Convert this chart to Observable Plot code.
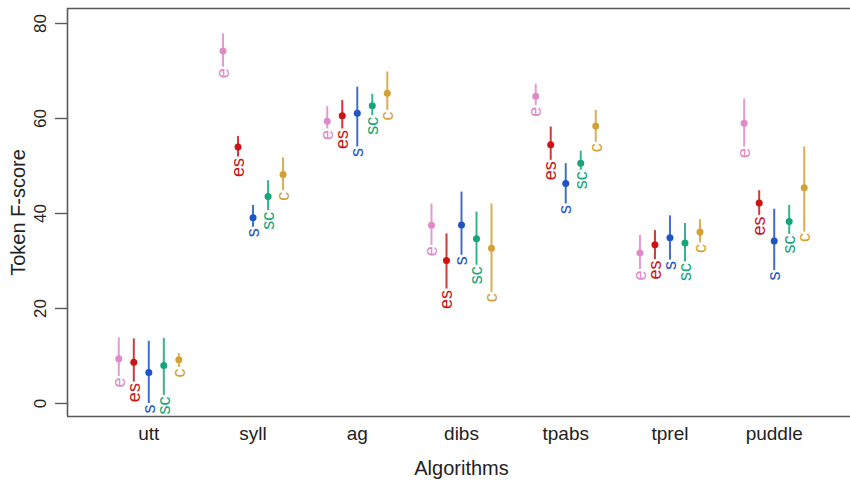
<!DOCTYPE html>
<html>
<head>
<meta charset="utf-8">
<script src="https://cdn.jsdelivr.net/npm/d3@7"></script>
<script src="https://cdn.jsdelivr.net/npm/@observablehq/plot@0.6"></script>
<style>
  html, body { margin: 0; padding: 0; background: #fff; overflow: hidden; }
  #chart { width: 850px; height: 484px; overflow: hidden; }
  #chart svg { display: block; max-width: none !important; width: 855px !important; height: 484px !important; }
</style>
</head>
<body>
<div id="chart"></div>
<script>
// ---- data ----
const algorithms = ["utt", "syll", "ag", "dibs", "tpabs", "tprel", "puddle"];
const conditions = ["e", "es", "s", "sc", "c"];
const yTicks = [0, 20, 40, 60, 80];

// mean, low, high per condition (order follows algorithms)
const meanE  = [9.4, 74.2, 59.4, 37.5, 64.7, 31.7, 59.0];
const lowE   = [5.7, 70.8, 57.8, 33.3, 62.7, 28.2, 54.0];
const highE  = [13.8, 77.8, 62.5, 42.0, 67.2, 35.4, 64.1];

const meanES = [8.7, 54.0, 60.6, 30.1, 54.5, 33.4, 42.2];
const lowES  = [4.5, 51.9, 57.8, 24.1, 51.2, 30.3, 39.6];
const highES = [13.6, 56.2, 63.8, 35.7, 58.2, 36.4, 44.8];

const meanS  = [6.5, 39.1, 61.1, 37.6, 46.3, 34.9, 34.2];
const lowS   = [0.0, 37.1, 54.0, 31.2, 42.0, 30.2, 28.0];
const highS  = [13.1, 41.7, 66.6, 44.5, 50.5, 39.5, 40.9];

const meanSC = [8.0, 43.6, 62.7, 34.7, 50.6, 33.8, 38.3];
const lowSC  = [1.7, 40.6, 60.6, 29.1, 49.1, 29.8, 35.6];
const highSC = [13.7, 46.9, 65.1, 40.3, 53.1, 37.9, 41.7];

const meanC  = [9.2, 48.2, 65.3, 32.7, 58.4, 36.1, 45.4];
const lowC   = [7.6, 44.8, 61.7, 23.4, 55.0, 33.8, 36.1];
const highC  = [10.5, 51.7, 69.8, 42.0, 61.7, 38.7, 54.0];

// ---- build table ----
const series = {
  e:  [meanE, lowE, highE],
  es: [meanES, lowES, highES],
  s:  [meanS, lowS, highS],
  sc: [meanSC, lowSC, highSC],
  c:  [meanC, lowC, highC]
};
const offsets = [-0.288, -0.144, 0, 0.144, 0.288];
const colors = ["#E08AC9", "#CC1414", "#1E55C6", "#14A67A", "#D4A035"];

const rows = [];
algorithms.forEach((a, i) => {
  conditions.forEach((c, j) => {
    const [m, lo, hi] = series[c];
    rows.push({alg: a, pos: i + 1 + offsets[j], cond: c, mean: m[i], low: lo[i], high: hi[i]});
  });
});

const xDomain = [0.22, 7.78];
const yDomain = [-2.74, 83.16];
const axisColor = "#5a5a5a";
const font = "Liberation Sans, Arial, Helvetica, sans-serif";

const chart = Plot.plot({
  width: 855,
  height: 484,
  marginLeft: 67,
  marginRight: 0,
  marginTop: 8,
  marginBottom: 68,
  style: {fontFamily: font, background: "#fff"},
  x: {domain: xDomain, axis: null},
  y: {domain: yDomain, axis: null},
  color: {domain: conditions, range: colors},
  marks: [
    // frame: left, top, bottom
    Plot.ruleX([xDomain[0]], {stroke: axisColor, strokeWidth: 1.6}),
    Plot.ruleY([yDomain[0], yDomain[1]], {stroke: axisColor, strokeWidth: 1.6}),
    // y ticks
    Plot.axisY({ticks: yTicks, tickSize: 12, tickFormat: () => "", stroke: axisColor, strokeWidth: 1.4}),
    Plot.text(yTicks, {frameAnchor: "left", y: d => d, text: d => String(d), dx: -27, rotate: -90,
      textAnchor: "middle", lineAnchor: "middle", fontSize: 17, fill: "#222"}),
    // x tick labels
    Plot.text(algorithms, {x: (d, i) => i + 1, frameAnchor: "bottom", text: d => d, dy: 17,
      lineAnchor: "middle", fontSize: 19, fill: "#222"}),
    // axis titles
    Plot.text(["Algorithms"], {frameAnchor: "bottom", dy: 52, lineAnchor: "middle", fontSize: 20, fill: "#222"}),
    Plot.text(["Token F-score"], {frameAnchor: "left", dx: -49, rotate: -90, lineAnchor: "middle",
      textAnchor: "middle", fontSize: 20, fill: "#222"}),
    // ranges
    Plot.ruleX(rows, {x: "pos", y1: "low", y2: "high", stroke: "cond", strokeWidth: 2, strokeOpacity: 0.85}),
    // means
    Plot.dot(rows, {x: "pos", y: "mean", fill: "cond", r: 3.5}),
    // labels
    Plot.text(rows, {x: "pos", y: "low", text: "cond", fill: "cond", rotate: -90, textAnchor: "end",
      lineAnchor: "middle", fontSize: 18, dy: 1})
  ]
});
document.getElementById("chart").appendChild(chart);
</script>
</body>
</html>
